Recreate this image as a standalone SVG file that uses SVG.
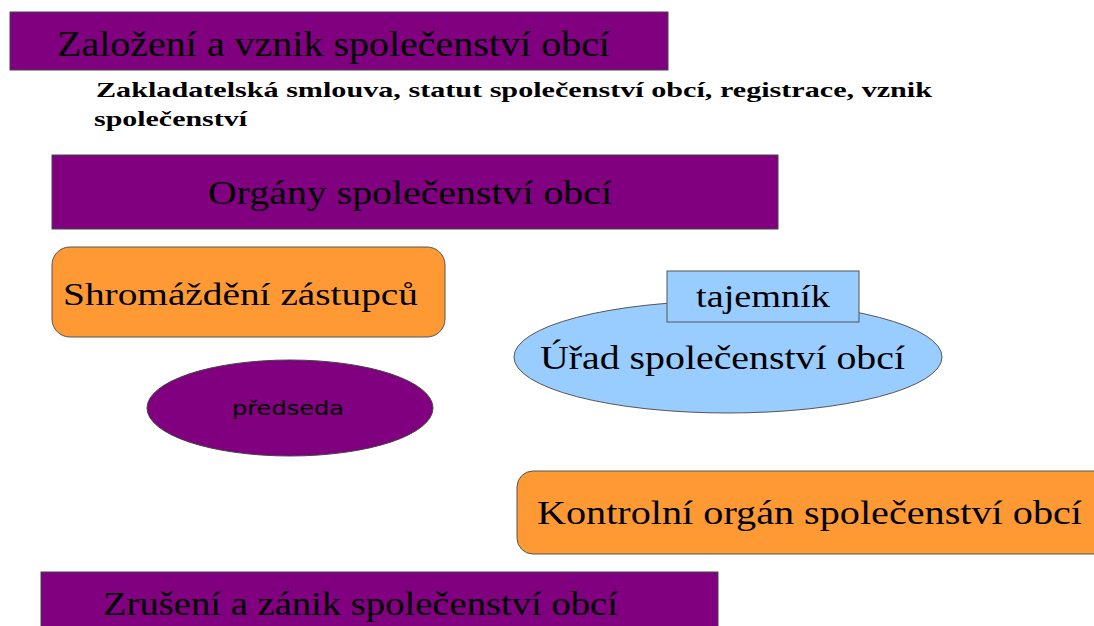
<svg xmlns="http://www.w3.org/2000/svg" width="1094" height="626" viewBox="0 0 1094 626">
<style>
.purple{fill:#800080;stroke:#444;stroke-width:1}
.orange{fill:#FF9933;stroke:#555;stroke-width:1}
.blue{fill:#99CCFF;stroke:#555;stroke-width:1}
.t{font-family:"Liberation Serif",serif;fill:#000}
.s{font-family:"DejaVu Sans","Noto Sans",sans-serif;fill:#000}
</style>
<rect width="1094" height="626" fill="#fff"/>
<g id="zalozeni">
<rect class="purple" x="10" y="12" width="658" height="58"/>
<text class="t" x="57" y="56" font-size="35" textLength="553" lengthAdjust="spacingAndGlyphs">Založení a vznik společenství obcí</text>
</g>
<g id="zakladatelska">
<text class="t" x="96" y="97" font-size="22" font-weight="bold" textLength="836" lengthAdjust="spacingAndGlyphs">Zakladatelská smlouva, statut společenství obcí, registrace, vznik</text>
<text class="t" x="94" y="126" font-size="22" font-weight="bold" textLength="153" lengthAdjust="spacingAndGlyphs">společenství</text>
</g>
<g id="organy">
<rect class="purple" x="52" y="155" width="726" height="74"/>
<text class="t" x="410" y="204" font-size="34" text-anchor="middle" textLength="404" lengthAdjust="spacingAndGlyphs">Orgány společenství obcí</text>
</g>
<g id="shromazdeni">
<rect class="orange" x="52" y="247" width="393" height="90" rx="18"/>
<text class="t" x="63" y="305" font-size="32" textLength="355" lengthAdjust="spacingAndGlyphs">Shromáždění zástupců</text>
</g>
<g id="predseda">
<ellipse class="purple" cx="290" cy="408" rx="143" ry="48"/>
<text class="s" x="232" y="415" font-size="20" textLength="112" lengthAdjust="spacingAndGlyphs">předseda</text>
</g>
<g id="urad">
<ellipse class="blue" cx="728" cy="357" rx="214" ry="56"/>
<text class="t" x="540" y="369" font-size="34" textLength="365" lengthAdjust="spacingAndGlyphs">Úřad společenství obcí</text>
</g>
<g id="tajemnik">
<rect class="blue" x="667" y="271" width="192" height="51"/>
<text class="t" x="763" y="307" font-size="32" text-anchor="middle" textLength="134" lengthAdjust="spacingAndGlyphs">tajemník</text>
</g>
<g id="kontrolni">
<rect class="orange" x="517" y="471" width="600" height="83" rx="16"/>
<text class="t" x="537" y="524" font-size="34" textLength="545" lengthAdjust="spacingAndGlyphs">Kontrolní orgán společenství obcí</text>
</g>
<g id="zruseni">
<rect class="purple" x="41" y="572" width="677" height="80"/>
<text class="t" x="103" y="615" font-size="34" textLength="515" lengthAdjust="spacingAndGlyphs">Zrušení a zánik společenství obcí</text>
</g>
<g id="connectors"></g>
</svg>
